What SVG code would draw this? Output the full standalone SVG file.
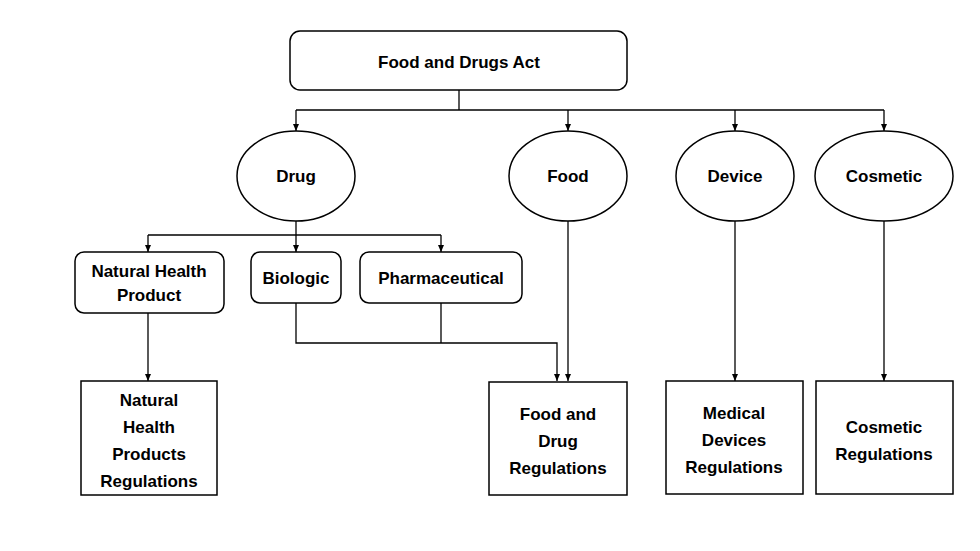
<svg xmlns="http://www.w3.org/2000/svg" width="980" height="551" viewBox="0 0 980 551">
<style>
.n{fill:#fff;stroke:#000;stroke-width:1.5}
.t{font-family:"Liberation Sans",Arial,sans-serif;font-weight:bold;font-size:17px;text-anchor:middle;fill:#000}
.c{fill:none;stroke:#000;stroke-width:1.3}
</style>
<defs><marker id="a" markerWidth="8" markerHeight="8" refX="7" refY="4" orient="auto" markerUnits="userSpaceOnUse"><path d="M0,1 L7,4 L0,7 Z" fill="#000"/></marker></defs>
<rect width="980" height="551" fill="#fff"/>
<g id="connectors" class="c">
<path d="M459,90 V110"/>
<path d="M296,110 H884"/>
<path d="M296,110 V131" marker-end="url(#a)"/>
<path d="M568,110 V131" marker-end="url(#a)"/>
<path d="M735,110 V131" marker-end="url(#a)"/>
<path d="M884,110 V131" marker-end="url(#a)"/>
<path d="M296,221 V252" marker-end="url(#a)"/>
<path d="M148,235 H441"/>
<path d="M148,235 V252" marker-end="url(#a)"/>
<path d="M441,235 V252" marker-end="url(#a)"/>
<path d="M148,313 V381" marker-end="url(#a)"/>
<path d="M296,303 V343 H557 V381" marker-end="url(#a)"/>
<path d="M441,303 V343"/>
<path d="M568,221 V381" marker-end="url(#a)"/>
<path d="M735,221 V381" marker-end="url(#a)"/>
<path d="M884,221 V381" marker-end="url(#a)"/>
</g>
<g id="act"><rect class="n" x="290" y="31" width="337" height="59" rx="10"/><text class="t" x="459" y="68">Food and Drugs Act</text></g>
<g id="drug"><ellipse class="n" cx="296" cy="176" rx="59" ry="45"/><text class="t" x="296" y="182">Drug</text></g>
<g id="food"><ellipse class="n" cx="568" cy="176" rx="59" ry="45"/><text class="t" x="568" y="182">Food</text></g>
<g id="device"><ellipse class="n" cx="735" cy="176" rx="59" ry="45"/><text class="t" x="735" y="182">Device</text></g>
<g id="cosmetic"><ellipse class="n" cx="884" cy="176" rx="69" ry="45"/><text class="t" x="884" y="182">Cosmetic</text></g>
<g id="nhp"><rect class="n" x="75" y="252" width="149" height="61" rx="9"/><text class="t" x="149" y="277">Natural Health</text><text class="t" x="149" y="301">Product</text></g>
<g id="biologic"><rect class="n" x="251" y="252" width="90" height="51" rx="9"/><text class="t" x="296" y="284">Biologic</text></g>
<g id="pharma"><rect class="n" x="360" y="252" width="162" height="51" rx="9"/><text class="t" x="441" y="284">Pharmaceutical</text></g>
<g id="nhpr"><rect class="n" x="81" y="381" width="136" height="114"/><text class="t" x="149" y="406">Natural</text><text class="t" x="149" y="433">Health</text><text class="t" x="149" y="460">Products</text><text class="t" x="149" y="487">Regulations</text></g>
<g id="fdr"><rect class="n" x="489" y="382" width="138" height="113"/><text class="t" x="558" y="420">Food and</text><text class="t" x="558" y="447">Drug</text><text class="t" x="558" y="474">Regulations</text></g>
<g id="mdr"><rect class="n" x="666" y="381" width="137" height="113"/><text class="t" x="734" y="419">Medical</text><text class="t" x="734" y="446">Devices</text><text class="t" x="734" y="473">Regulations</text></g>
<g id="cr"><rect class="n" x="816" y="381" width="137" height="113"/><text class="t" x="884" y="433">Cosmetic</text><text class="t" x="884" y="460">Regulations</text></g>
</svg>
